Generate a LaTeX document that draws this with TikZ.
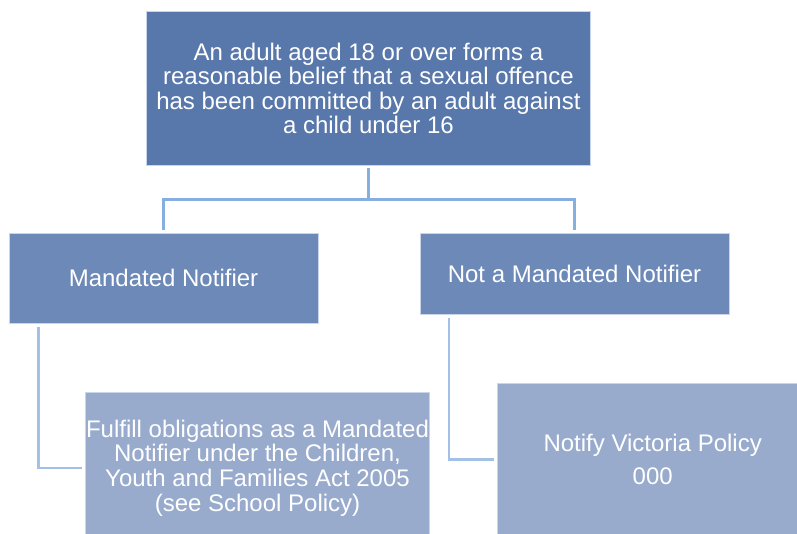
\documentclass[tikz,border=0pt]{standalone}
\usepackage{fontspec}
\setmainfont{Liberation Sans}
\definecolor{topfill}{HTML}{5877AB}
\definecolor{midfill}{HTML}{6C89B8}
\definecolor{lowfill}{HTML}{98ABCD}
\definecolor{edgecol}{HTML}{C9D5EA}
\definecolor{conncol}{HTML}{86AEE0}
\definecolor{conncoltwo}{HTML}{A3C0E6}
\tikzset{
  boxbase/.style={draw=edgecol, line width=0.8pt, inner sep=0pt, align=center,
    text=white, font=\fontsize{24}{24.6}\selectfont},
  topbox/.style={boxbase, fill=topfill},
  midbox/.style={boxbase, fill=midfill},
  lowbox/.style={boxbase, fill=lowfill},
  conn/.style={draw=conncol, line width=2.6pt, shorten <=3pt, shorten >=3pt},
  conntwo/.style={draw=conncoltwo, line width=2.6pt, shorten <=3pt, shorten >=3pt}
}
\begin{document}
\begin{tikzpicture}[x=1pt,y=-1pt]
\clip (0,0) rectangle (797,534);
\useasboundingbox (0,0) rectangle (797,534);
\node[topbox, minimum width=443.3pt, minimum height=153.3pt] (top) at (368.4,88.4)
  {An adult aged 18 or over forms a\\reasonable belief that a sexual offence\\has been committed by an adult against\\a child under 16};
\node[midbox, minimum width=309pt, minimum height=90pt] (mn) at (163.5,278.3) {Mandated Notifier};
\node[midbox, minimum width=309pt, minimum height=81pt] (nmn) at (574.5,273.8) {Not a Mandated Notifier};
\node[lowbox, minimum width=343.6pt, minimum height=151.4pt] (lb) at (257.5,468)
  {Fulfill obligations as a Mandated\\Notifier under the Children,\\Youth and Families Act 2005\\(see School Policy)};
\node[lowbox, minimum width=310pt, minimum height=152pt] (rb) at (652.7,459.3)
  {Notify Victoria Policy\\[9pt]000};
\draw[conn] (top.south) -- ++(0,34) -| (mn.north);
\draw[conn] (top.south) -- ++(0,34) -| (nmn.north);
\draw[conntwo] ([xshift=30pt]mn.south west) |- (lb.west);
\draw[conntwo] ([xshift=29.3pt]nmn.south west) |- (rb.west);
\end{tikzpicture}
\end{document}
